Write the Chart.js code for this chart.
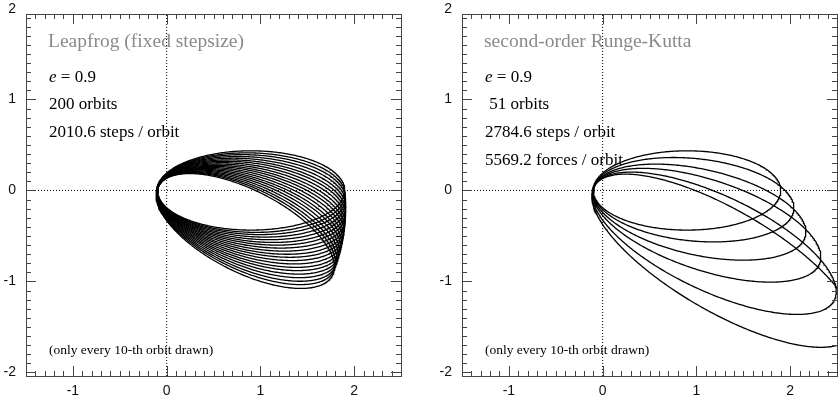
<!DOCTYPE html>
<html>
<head>
<meta charset="utf-8">
<script src="https://cdn.jsdelivr.net/npm/chart.js@4"></script>
<style>
  html, body { margin: 0; padding: 0; background: #fff; }
  #wrap { position: relative; width: 840px; height: 404px; }
  #c1 { position: absolute; left: 0; top: 0; }
  #c2 { position: absolute; left: 436px; top: 0; }
</style>
</head>
<body>
<div id="wrap">
  <canvas id="c1" width="436" height="404"></canvas>
  <canvas id="c2" width="404" height="404"></canvas>
</div>
<script>
// orbit parameters (every 10th orbit)
// rotation of the line of apsides (deg, clockwise), apocentre distance
const lfTheta = [0, 1.5, 2.9, 4.4, 5.9, 7.4, 8.8, 10.3, 11.8, 13.3, 14.7, 16.2, 17.7, 19.2, 20.6, 22.1, 23.6, 25.1, 26.5, 28.0]
const lfApo = [1.90, 1.905, 1.91, 1.915, 1.92, 1.925, 1.93, 1.935, 1.94, 1.945, 1.95, 1.955, 1.96, 1.965, 1.97, 1.975, 1.98, 1.985, 1.99, 2.0]
const lfPeri = 0.1

const rkTheta = [0, 6, 13, 19, 26, 31]
const rkApo = [1.9, 2.05, 2.22, 2.45, 2.75, 3.1]
const rkPeri = 0.1

const xTickLabels = [-1, 0, 1, 2]
const yTickLabels = [-2, -1, 0, 1, 2]

const lfText = ["200 orbits", "2010.6 steps / orbit"]
const rkText = [" 51 orbits", "2784.6 steps / orbit", "5569.2 forces / orbit"]

const X_MIN = -1.5, X_MAX = 2.5
const Y_MIN = -2.04, Y_MAX = 1.94

function orbit(thetaDeg, apo, peri) {
    const a = (apo + peri) / 2
    const c = a - peri
    const b = Math.sqrt(apo * peri)
    const t = thetaDeg * Math.PI / 180
    const pts = []
    for (let i = 0; i <= 400; i++) {
        const E = 2 * Math.PI * i / 400
        const x = c + a * Math.cos(E)
        const y = b * Math.sin(E)
        pts.push({ x: x * Math.cos(t) + y * Math.sin(t), y: -x * Math.sin(t) + y * Math.cos(t) })
    }
    return pts
}

function axesLines() {
    return [
        { data: [{ x: X_MIN, y: 0 }, { x: X_MAX, y: 0 }], borderColor: "#000", borderWidth: 1, borderDash: [1, 2], pointRadius: 0, showLine: true },
        { data: [{ x: 0, y: Y_MIN }, { x: 0, y: Y_MAX }], borderColor: "#000", borderWidth: 1, borderDash: [1, 2], pointRadius: 0, showLine: true },
    ]
}

const framePlugin = {
    id: "frame",
    afterDraw(chart) {
        const ctx = chart.ctx
        const a = chart.chartArea
        const xs = chart.scales.x, ys = chart.scales.y
        ctx.save()
        ctx.strokeStyle = "#444"
        ctx.lineWidth = 1
        ctx.strokeRect(a.left + 0.5, a.top + 0.5, a.right - a.left, a.bottom - a.top)
        ctx.beginPath()
        for (let i = -30; i <= 30; i++) {
            const v = i / 10
            const len = i % 10 === 0 ? 10 : 5
            if (v >= X_MIN && v <= X_MAX) {
                const px = Math.round(xs.getPixelForValue(v)) + 0.5
                ctx.moveTo(px, a.bottom); ctx.lineTo(px, a.bottom - len)
                ctx.moveTo(px, a.top); ctx.lineTo(px, a.top + len)
            }
            if (v >= Y_MIN && v <= Y_MAX) {
                const py = Math.round(ys.getPixelForValue(v)) + 0.5
                ctx.moveTo(a.left, py); ctx.lineTo(a.left + len, py)
                ctx.moveTo(a.right, py); ctx.lineTo(a.right - len, py)
            }
        }
        ctx.stroke()
        ctx.fillStyle = "#111"
        ctx.font = "14px 'Liberation Sans', Arial, sans-serif"
        ctx.textAlign = "center"
        ctx.textBaseline = "middle"
        xTickLabels.forEach(v => ctx.fillText(String(v), xs.getPixelForValue(v), a.bottom + 15))
        ctx.textAlign = "right"
        yTickLabels.forEach(v => ctx.fillText(String(v), a.left - 10, Math.max(ys.getPixelForValue(v), 9)))

        // annotations
        const o = chart.options.plugins.frame
        const x0 = a.left + 23
        ctx.textAlign = "left"
        ctx.textBaseline = "alphabetic"
        ctx.fillStyle = "#8a8a8a"
        ctx.font = "19.5px 'Liberation Serif', 'Times New Roman', serif"
        ctx.fillText(o.title, x0 - 1, a.top + 33)
        ctx.fillStyle = "#000"
        ctx.font = "italic 17px 'Liberation Serif', serif"
        ctx.fillText("e", x0, a.top + 68)
        const w = ctx.measureText("e").width
        ctx.font = "17px 'Liberation Serif', serif"
        ctx.fillText(" = 0.9", x0 + w, a.top + 68)
        o.lines.forEach((s, i) => ctx.fillText(s, x0, a.top + 95 + i * 28))
        ctx.font = "13.5px 'Liberation Serif', serif"
        ctx.fillText("(only every 10-th orbit drawn)", x0, a.bottom - 22)
        ctx.restore()
    },
}

function makeChart(id, thetas, apos, peri, title, lines, padRight) {
    const sets = thetas.map((t, i) => ({
        data: orbit(t, apos[i], peri),
        borderColor: "#000",
        borderWidth: 1.3,
        pointRadius: 0,
        showLine: true,
    }))
    return new Chart(document.getElementById(id), {
        type: "scatter",
        data: { datasets: axesLines().concat(sets) },
        options: {
            responsive: false,
            animation: false,
            layout: { padding: { left: 26, right: padRight, top: 14, bottom: 28 } },
            plugins: {
                legend: { display: false },
                tooltip: { enabled: false },
                frame: { title: title, lines: lines },
            },
            scales: {
                x: { type: "linear", min: X_MIN, max: X_MAX, display: false },
                y: { type: "linear", min: Y_MIN, max: Y_MAX, display: false },
            },
        },
        plugins: [framePlugin],
    })
}

makeChart("c1", lfTheta, lfApo, lfPeri, "Leapfrog (fixed stepsize)", lfText, 35)
makeChart("c2", rkTheta, rkApo, rkPeri, "second-order Runge-Kutta", rkText, 3)
</script>
</body>
</html>
